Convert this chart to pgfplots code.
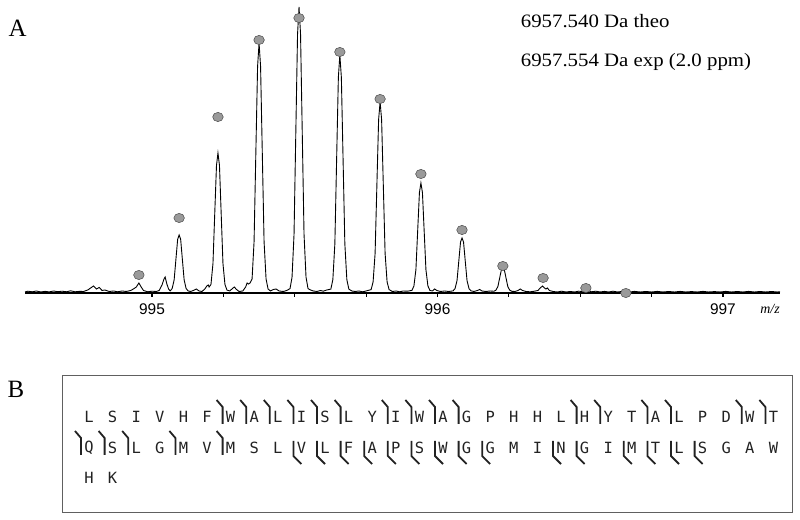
\documentclass[border=0pt]{standalone}
\usepackage{fontspec}
\setmainfont{Liberation Serif}
\newfontfamily\sansA{Liberation Sans}
\newfontfamily\monoA{DejaVu Sans Mono}
\usepackage{pgfplots}
\pgfplotsset{compat=1.18}

\definecolor{dotfill}{HTML}{9A9A9A}
\definecolor{dotedge}{HTML}{4A4A4A}
\definecolor{seqcol}{HTML}{222222}

\begin{document}
\begin{tikzpicture}[x=1bp,y=1bp]
\path[use as bounding box] (0,0) rectangle (800,520);

\begin{axis}[
  at={(25bp,227bp)}, anchor=south west,
  scale only axis, width=755bp, height=293bp,
  xmin=994.555, xmax=997.2, ymin=0, ymax=293,
  clip=false,
  axis x line*=bottom, axis y line=none,
  axis line style={line width=2bp, -},
  xtick={995,996,997}, xticklabels={995,996,997},
  minor xtick={995.25,995.5,995.75,996.25,996.5,996.75},
  tick align=outside, major tick length=4bp, minor tick length=4bp,
  tick style={black, line width=1.2bp},
  xticklabel style={font=\fontsize{15.5}{15.5}\sansA, yshift=-3bp},
]
\addplot[black, line width=0.9bp] coordinates {
 (994.555,1) (994.565,1.8) (994.58,1.2) (994.595,2) (994.61,1) (994.625,1.6)
 (994.64,1.1) (994.655,2) (994.67,1.3) (994.685,1.8) (994.70,1.2) (994.715,2.2)
 (994.73,1.2) (994.745,1.6) (994.76,1.5) (994.775,3) (994.785,5) (994.795,7)
 (994.805,4) (994.815,5.5) (994.825,2.5) (994.835,3) (994.85,1.5) (994.865,2)
 (994.88,1.2) (994.895,2) (994.91,1.5) (994.925,2.5) (994.935,4) (994.945,6)
 (994.954,10) (994.962,6) (994.97,2.5) (994.985,1.2) (995.00,1.8) (995.015,1.5)
 (995.025,2.5) (995.035,8) (995.042,14) (995.046,16) (995.052,9) (995.058,4)
 (995.0635,2.1) (995.0705,4.4) (995.0775,13.1) (995.0845,36.3) (995.0898,53.7)
 (995.095,58) (995.1003,53.7) (995.1055,36.3) (995.1125,13.1) (995.1195,4.4)
 (995.1265,2.1) (995.135,1.5) (995.145,2.5) (995.155,4) (995.165,2) (995.175,1.5)
 (995.185,4) (995.192,7) (995.197,8) (995.2,6)
 (995.2065,8.5) (995.2135,29.5) (995.2205,85.5) (995.2258,127.5) (995.231,140)
 (995.2363,127.5) (995.2415,85.5) (995.2485,29.5) (995.2555,8.5) (995.2625,2.9)
 (995.272,2) (995.28,4) (995.288,6) (995.296,3.5) (995.305,1.5) (995.318,2)
 (995.328,6) (995.333,10) (995.338,9)
 (995.3435,10) (995.3505,14) (995.3575,51.5) (995.3645,151.5) (995.3698,226.5)
 (995.375,250) (995.3803,226.5) (995.3855,151.5) (995.3925,51.5) (995.3995,14)
 (995.4065,4) (995.415,2) (995.425,3.5) (995.435,4) (995.445,2) (995.46,1.5)
 (995.472,2.5)
 (995.4835,4.4) (995.4905,15.8) (995.4975,58.7) (995.5045,173.1) (995.5098,258.9)
 (995.515,286) (995.5203,258.9) (995.5255,173.1) (995.5325,58.7) (995.5395,15.8)
 (995.5465,4.4) (995.555,3) (995.565,2) (995.578,1.5) (995.59,2.5) (995.6,1.8)
 (995.612,3)
 (995.6265,3.9) (995.6335,13.4) (995.6405,49.1) (995.6475,144.3) (995.6528,215.7)
 (995.658,238) (995.6633,215.7) (995.6685,144.3) (995.6755,49.1) (995.6825,13.4)
 (995.6895,3.9) (995.7,2) (995.712,1.5) (995.725,2) (995.738,1.2) (995.75,2)
 (995.7675,3.4) (995.7745,11.1) (995.7815,39.7) (995.7885,116.1) (995.7938,173.4)
 (995.799,191) (995.8043,173.4) (995.8095,116.1) (995.8165,39.7) (995.8235,11.1)
 (995.8305,3.4) (995.842,1.5) (995.855,2) (995.868,1.2) (995.88,2) (995.895,1.8)
 (995.9105,2.6) (995.9175,7) (995.9245,23.5) (995.9315,67.5) (995.9368,100.5)
 (995.942,110) (995.9473,100.5) (995.9525,67.5) (995.9595,23.5) (995.9665,7)
 (995.9735,2.6) (995.982,2) (995.99,4) (995.998,2.5) (996.01,1.5) (996.025,2)
 (996.04,1.5)
 (996.0545,2.1) (996.0615,4.3) (996.0685,12.5) (996.0755,34.5) (996.0808,51)
 (996.086,55) (996.0913,51) (996.0965,34.5) (996.1035,12.5) (996.1105,4.3)
 (996.1175,2.1) (996.128,1.5) (996.14,2.5) (996.148,3.5) (996.156,2) (996.17,1.5)
 (996.185,2)
 (996.1975,1.7) (996.2045,2.7) (996.2115,6.3) (996.2185,15.9) (996.2238,23.1)
 (996.229,24) (996.2343,23.1) (996.2395,15.9) (996.2465,6.3) (996.2535,2.7)
 (996.2605,1.7) (996.272,1.5) (996.282,2.5) (996.29,4) (996.298,2.5) (996.31,1.5)
 (996.325,1.2) (996.34,1.8) (996.352,2.5)
 (996.36,5) (996.368,7) (996.375,5) (996.38,4) (996.385,5) (996.392,2.5)
 (996.405,1.5) (996.42,1) (996.435,1.8) (996.45,1) (996.465,1.5) (996.48,1)
 (996.495,1.8) (996.505,1.5) (996.513,2.5) (996.52,3.5) (996.527,2.5) (996.54,1.2)
 (996.555,1.8) (996.57,1) (996.585,1.6) (996.6,1) (996.615,1.8) (996.63,1)
 (996.645,1.5) (996.66,1.8) (996.675,1) (996.69,1.6) (996.71,1) (996.73,1.5)
 (996.75,1) (996.77,1.6) (996.79,1) (996.81,1.5) (996.83,1) (996.85,1.6)
 (996.87,1) (996.89,1.4) (996.91,1) (996.93,1.6) (996.95,1) (996.97,1.4)
 (996.99,1) (997.01,1.6) (997.03,1) (997.05,1.5) (997.07,1) (997.09,1.6)
 (997.11,1) (997.13,1.5) (997.15,1) (997.17,1.5) (997.19,1) (997.2,1.2)};
% theoretical isotope distribution
\addplot[only marks, mark=*, mark size=4.6bp,
  mark options={xscale=1.15, fill=dotfill, draw=dotedge, line width=0.5bp}]
  coordinates {
 (994.954,18) (995.095,75) (995.231,176) (995.375,253) (995.515,275)
 (995.658,241) (995.799,194) (995.942,119) (996.086,63) (996.229,27)
 (996.37,15) (996.52,5) (996.66,0)};
\end{axis}

\node[font=\fontsize{14}{14}\selectfont\itshape] at (770,211) {m/z};
\node[font=\fontsize{25}{25}\selectfont] at (17.5,492) {A};
\node[font=\fontsize{25}{25}\selectfont] at (16,131) {B};
\node[anchor=base west, font=\fontsize{19}{19}\selectfont, xscale=1.1] at (517,492) {6957.540 Da theo};
\node[anchor=base west, font=\fontsize{19}{19}\selectfont, xscale=1.1] at (517,453) {6957.554 Da exp (2.0 ppm)};

% panel B: sequence with fragment cleavage marks
\draw[gray!75!black, line width=0.9bp] (62,8) rectangle (792,145);
\tikzset{seq/.style={font=\fontsize{15.5}{15.5}\monoA, text=seqcol, inner sep=0pt, anchor=center}}
\foreach \c [count=\i from 0] in {L,S,I,V,H,F,W,A,L,I,S,L,Y,I,W,A,G,P,H,H,L,H,Y,T,A,L,P,D,W,T}
  \node[seq] at (89+23.6*\i,103) {\c};
\foreach \c [count=\i from 0] in {Q,S,L,G,M,V,M,S,L,V,L,F,A,P,S,W,G,G,M,I,N,G,I,M,T,L,S,G,A,W}
  \node[seq] at (89+23.6*\i,72) {\c};
\foreach \c [count=\i from 0] in {H,K}
  \node[seq] at (89+23.6*\i,42) {\c};
\tikzset{cut/.style={draw=seqcol, line width=1.8bp}}
\foreach \i in {6,7,8,9,10,11,13,14,15,16,21,22,24,25,28,29}
  \draw[cut] ({89+23.6*\i-14},120) -- ({89+23.6*\i-8},113) -- ({89+23.6*\i-8},96);
\foreach \i in {0,1,2,4,6}
  \draw[cut] ({89+23.6*\i-14},89) -- ({89+23.6*\i-8},82) -- ({89+23.6*\i-8},65);
\foreach \i in {9,10,11,12,13,14,15,16,17,20,21,23,24,25,26}
  \draw[cut] ({89+23.6*\i-8},79) -- ({89+23.6*\i-8},64) -- ({89+23.6*\i},56);
\end{tikzpicture}
\end{document}
